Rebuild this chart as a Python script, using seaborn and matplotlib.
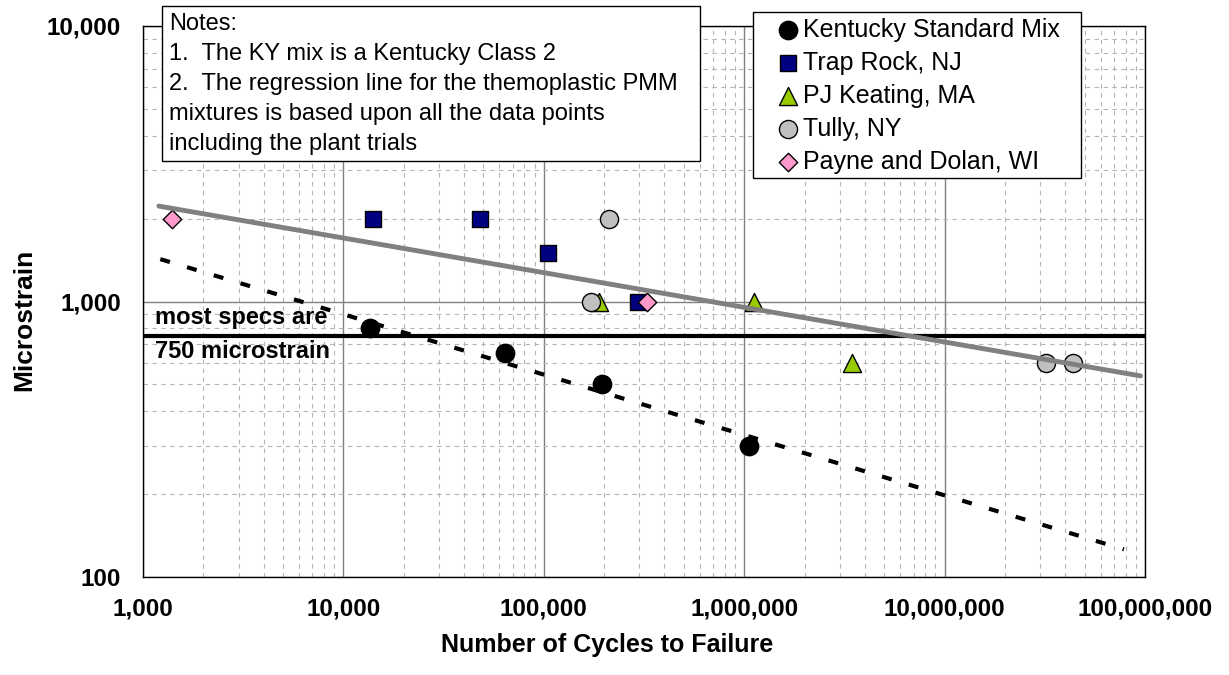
import matplotlib
matplotlib.use("Agg")
import matplotlib.pyplot as plt
from matplotlib.patches import Rectangle
from matplotlib.ticker import LogLocator, FuncFormatter, NullFormatter
import seaborn as sns
import pandas as pd

# data
kentucky_x = [13500, 64000, 196000, 1060000]
kentucky_y = [800, 650, 500, 300]
traprock_x = [14000, 48000, 105000, 296000]
traprock_y = [2000, 2000, 1500, 1000]
keating_x = [189000, 1120000, 3470000]
keating_y = [1000, 1000, 600]
tully_x = [172000, 211000, 31900000, 43600000]
tully_y = [1000, 2000, 600, 600]
payne_x = [1400, 327000]
payne_y = [2000, 1000]

# regression line end points
pmm_trend_x = [1200, 95000000]
pmm_trend_y = [2220, 537]
ky_trend_x = [1220, 78500000]
ky_trend_y = [1425, 126]
spec_x = [1000, 100000000]
spec_y = [750, 750]

notes = ["Notes:",
         "1.  The KY mix is a Kentucky Class 2",
         "2.  The regression line for the themoplastic PMM",
         "mixtures is based upon all the data points",
         "including the plant trials"]

sns.set_style("white")
plt.rcParams['font.family'] = ['Liberation Sans', 'DejaVu Sans']
plt.rcParams['text.color'] = 'black'
plt.rcParams['axes.labelcolor'] = 'black'
plt.rcParams['xtick.color'] = 'black'
plt.rcParams['ytick.color'] = 'black'

W, H = 1229, 675
fig = plt.figure(figsize=(W / 100, H / 100), dpi=100)
L, R, T, B = 143, 1145, 26, 577
ax = fig.add_axes([L / W, 1 - B / H, (R - L) / W, (B - T) / H])

series = [
    ("Kentucky Standard Mix", kentucky_x, kentucky_y, "o", "black", 175),
    ("Trap Rock, NJ", traprock_x, traprock_y, "s", "#000080", 135),
    ("PJ Keating, MA", keating_x, keating_y, "^", "#99cc00", 170),
    ("Tully, NY", tully_x, tully_y, "o", "#c0c0c0", 170),
    ("Payne and Dolan, WI", payne_x, payne_y, "D", "#ff99cc", 88),
]
for name, xs, ys, mk, col, sz in series:
    df = pd.DataFrame({"cycles": xs, "strain": ys})
    sns.scatterplot(data=df, x="cycles", y="strain", marker=mk, color=col,
                    s=sz, edgecolor="black", linewidth=1, label=name,
                    ax=ax, zorder=3)

sns.lineplot(x=spec_x, y=spec_y, color="black", lw=3, ax=ax, zorder=4)
sns.lineplot(x=pmm_trend_x, y=pmm_trend_y, color="#808080", lw=3.5, ax=ax, zorder=4)
sns.lineplot(x=ky_trend_x, y=ky_trend_y, color="black", lw=3,
             linestyle=(0, (2.4, 4.3)), ax=ax, zorder=4)

ax.set_xscale("log")
ax.set_yscale("log")
ax.set_xlim(1000, 100000000)
ax.set_ylim(100, 10000)

ax.xaxis.set_major_locator(LogLocator(base=10, numticks=20))
ax.yaxis.set_major_locator(LogLocator(base=10, numticks=20))
ax.xaxis.set_minor_locator(LogLocator(base=10, subs=range(2, 10), numticks=100))
ax.yaxis.set_minor_locator(LogLocator(base=10, subs=range(2, 10), numticks=100))
fmt = FuncFormatter(lambda v, p: "{:,.0f}".format(v))
ax.xaxis.set_major_formatter(fmt)
ax.yaxis.set_major_formatter(fmt)
ax.xaxis.set_minor_formatter(NullFormatter())
ax.yaxis.set_minor_formatter(NullFormatter())

ax.grid(which="major", color="#808080", lw=1, ls="-")
ax.grid(which="minor", color="#b4b4b4", lw=0.8, ls=(0, (4, 4)))
ax.set_axisbelow(True)
for sp in ax.spines.values():
    sp.set_color("black")
    sp.set_linewidth(1)
    sp.set_visible(True)

ax.tick_params(which="major", direction="out", length=6, width=1, color="black",
               labelsize=17.5)
ax.tick_params(axis="x", which="major", pad=9)
ax.tick_params(axis="y", which="major", pad=10)
ax.tick_params(which="minor", length=0)
for lab in ax.get_xticklabels() + ax.get_yticklabels():
    lab.set_fontweight("bold")

ax.set_xlabel("")
ax.set_ylabel("")
fig.text(607 / W, 1 - 645 / H, "Number of Cycles to Failure", ha="center",
         va="center", fontsize=18, fontweight="bold")
fig.text(24 / W, 1 - 320 / H, "Microstrain", ha="center", va="center",
         rotation=90, fontsize=19, fontweight="bold")

fig.text(155 / W, 1 - 318 / H, "most specs are", ha="left", va="center",
         fontsize=17, fontweight="bold", zorder=5)
fig.text(155 / W, 1 - 352 / H, "750 microstrain", ha="left", va="center",
         fontsize=17, fontweight="bold", zorder=5)

# notes box
fig.patches.append(Rectangle((162 / W, 1 - 161 / H), (700 - 162) / W, (161 - 6) / H,
                             transform=fig.transFigure, facecolor="white",
                             edgecolor="black", lw=1, zorder=6))
for i, line in enumerate(notes):
    fig.text(169 / W, 1 - (24 + 30 * i) / H, line, ha="left", va="center",
             fontsize=17, zorder=7)

# legend box drawn by hand, legend itself frameless
ax.add_patch(Rectangle((753 / W, 1 - 178 / H), (1081 - 753) / W, (178 - 12) / H,
                       transform=fig.transFigure, facecolor="white",
                       edgecolor="black", lw=1, zorder=7, clip_on=False))
leg = ax.legend(loc="upper left", bbox_to_anchor=(777 / W, 1 - 18 / H),
                bbox_transform=fig.transFigure, fontsize=18, frameon=False,
                borderaxespad=0, borderpad=0, labelspacing=0.36,
                handlelength=0.85, handletextpad=0.2)
leg.set_zorder(8)

fig.savefig("out.png", dpi=100)
